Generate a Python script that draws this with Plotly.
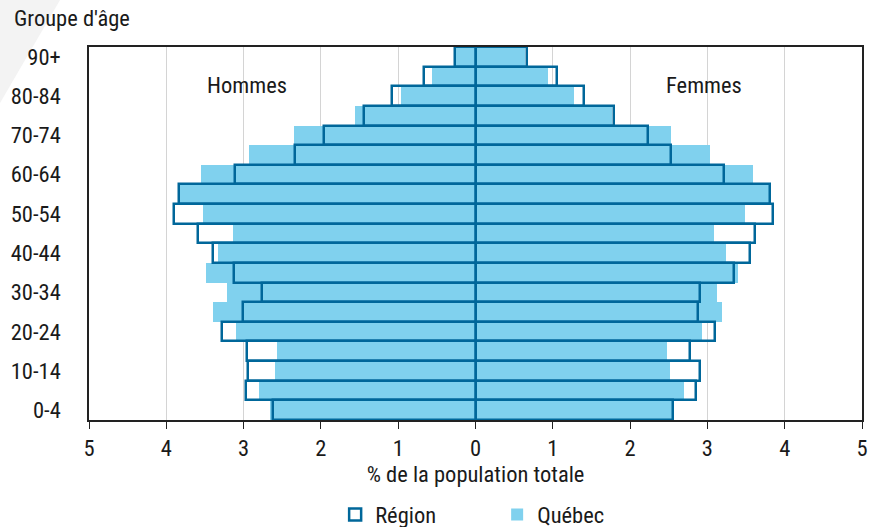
import plotly.graph_objects as go

age_groups = ["0-4", "5-9", "10-14", "15-19", "20-24", "25-29", "30-34", "35-39",
              "40-44", "45-49", "50-54", "55-59", "60-64", "65-69", "70-74",
              "75-79", "80-84", "85-89", "90+"]

# values in % of total population (listed from 0-4 up to 90+)
region_hommes = [2.62, 2.97, 2.94, 2.95, 3.28, 3.01, 2.76, 3.13, 3.39, 3.59,
                 3.90, 3.84, 3.11, 2.33, 1.96, 1.44, 1.08, 0.67, 0.26]
quebec_hommes = [2.66, 2.80, 2.59, 2.57, 3.10, 3.40, 3.22, 3.49, 3.33, 3.14,
                 3.52, 3.82, 3.55, 2.93, 2.35, 1.56, 0.96, 0.56, 0.25]
region_femmes = [2.55, 2.85, 2.90, 2.78, 3.10, 2.88, 2.91, 3.34, 3.55, 3.62,
                 3.85, 3.81, 3.21, 2.53, 2.23, 1.79, 1.41, 1.05, 0.66]
quebec_femmes = [2.56, 2.70, 2.51, 2.48, 2.93, 3.19, 3.13, 3.39, 3.24, 3.08,
                 3.49, 3.80, 3.59, 3.04, 2.53, 1.77, 1.28, 0.94, 0.64]

x_ticks = [-5, -4, -3, -2, -1, 0, 1, 2, 3, 4, 5]
x_tick_labels = ["5", "4", "3", "2", "1", "0", "1", "2", "3", "4", "5"]
y_tick_labels = age_groups[::2]

FONT = "Roboto Condensed, Liberation Sans Narrow, sans-serif"
FS = 22.5
DARK = "#00679a"
LIGHT = "#80d1ee"

fig = go.Figure()
fig.add_trace(go.Bar(y=age_groups, x=[-v for v in quebec_hommes], orientation="h",
                     name="Québec", marker=dict(color=LIGHT, line=dict(width=0)),
                     showlegend=False))
fig.add_trace(go.Bar(y=age_groups, x=quebec_femmes, orientation="h",
                     name="Québec", marker=dict(color=LIGHT, line=dict(width=0)),
                     showlegend=True, legendrank=2))
fig.add_trace(go.Bar(y=age_groups, x=[-v for v in region_hommes], orientation="h",
                     name="Région", marker=dict(color="rgba(0,0,0,0)",
                                                line=dict(color=DARK, width=2.5)),
                     showlegend=False))
fig.add_trace(go.Bar(y=age_groups, x=region_femmes, orientation="h",
                     name="Région", marker=dict(color="rgba(0,0,0,0)",
                                                line=dict(color=DARK, width=2.5)),
                     showlegend=True, legendrank=1))

fig.update_layout(
    width=879, height=527,
    margin=dict(l=89, r=17, t=47, b=107, autoexpand=False),
    barmode="overlay", bargap=0,
    paper_bgcolor="white", plot_bgcolor="white",
    font=dict(family=FONT, size=FS, color="#1a1a1a"),
    legend=dict(orientation="h", x=0.528, xanchor="center", y=-0.197, yanchor="top",
                font=dict(size=FS), entrywidth=117, traceorder="normal"),
    xaxis=dict(range=[-5, 5], tickvals=x_ticks, ticktext=x_tick_labels,
               showgrid=True, gridcolor="#d4d4d4", gridwidth=1,
               zeroline=False, showline=True, linecolor="#222", linewidth=1.5,
               mirror=True, ticks="outside", ticklen=7, tickcolor="#222",
               title=dict(text="% de la population totale", standoff=4,
                          font=dict(size=FS))),
    yaxis=dict(type="category", categoryorder="array", categoryarray=age_groups,
               tickvals=y_tick_labels, showgrid=False, zeroline=False,
               showline=True, linecolor="#222", linewidth=1.5, mirror=True,
               ticks="", ticklabelstandoff=22),
    shapes=[
        dict(type="path", xref="paper", yref="paper",
             path="M -0.1151 1.126 L -0.0375 1.126 L -0.1151 0.850 Z",
             fillcolor="#f3f3f3", line=dict(width=0), layer="below"),
        dict(type="rect", xref="x", yref="paper", x0=-3.4, x1=-2.55, y0=0.885, y1=0.995,
             fillcolor="white", line=dict(width=0), layer="between"),
        dict(type="rect", xref="x", yref="paper", x0=2.55, x1=3.4, y0=0.885, y1=0.995,
             fillcolor="white", line=dict(width=0), layer="between"),
    ],
    annotations=[
        dict(text="Hommes", x=-2.96, y=0.937, xref="x", yref="paper",
             showarrow=False, font=dict(size=FS)),
        dict(text="Femmes", x=2.96, y=0.937, xref="x", yref="paper",
             showarrow=False, font=dict(size=FS)),
        dict(text="Groupe d'âge", x=-0.0996, y=1.078, xref="paper", yref="paper",
             xanchor="left", yanchor="middle", showarrow=False, font=dict(size=FS)),
    ],
)

fig.write_html("out.html", config={"displayModeBar": False},
               post_script="document.body.style.margin='0';")
